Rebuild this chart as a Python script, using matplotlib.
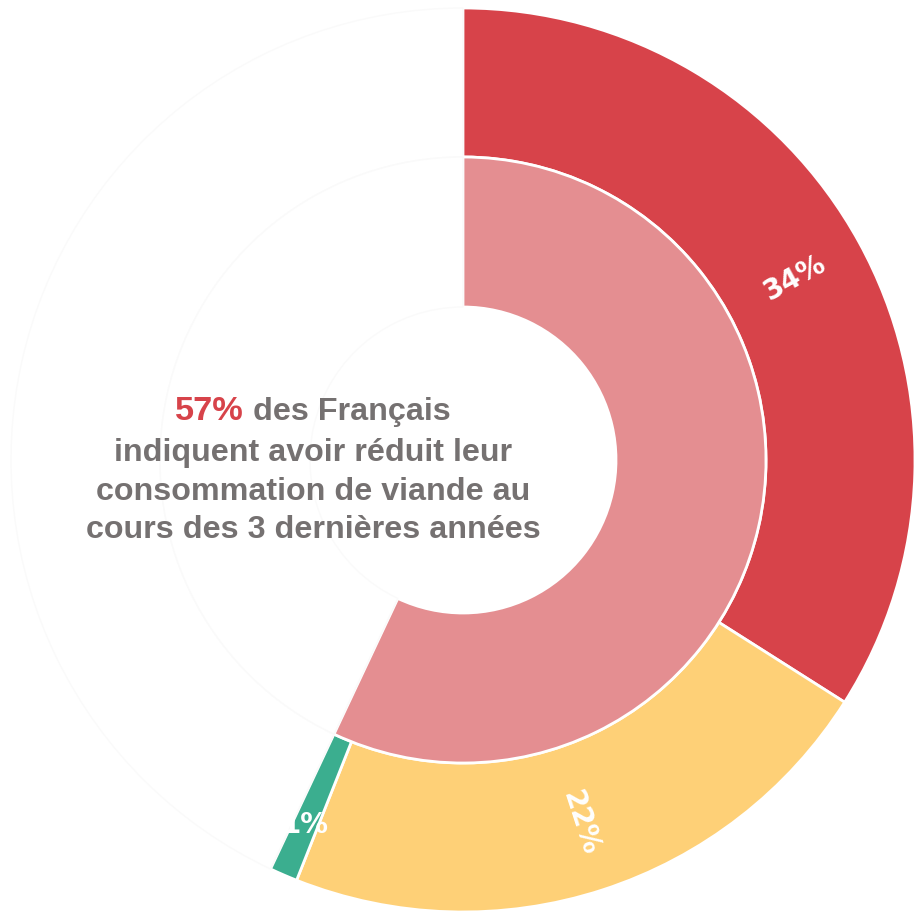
import numpy as np
import matplotlib
matplotlib.use("Agg")
import matplotlib.pyplot as plt

# Data
outer_labels = ["Réduit fortement", "Réduit un peu", "Autre", "Reste"]
outer_values = [34, 22, 1, 43]
inner_values = [57, 43]
label_texts = ["34%", "22%", "1%"]

RED = "#D7434A"
PINK = "#E48E91"
YELLOW = "#FED077"
GREEN = "#3BAE8F"
GREY = "#757171"

W, H = 914, 916
fig = plt.figure(figsize=(W / 100, H / 100), dpi=100)
ax = fig.add_axes([0, 0, 1, 1])

cx, cy = 463, 456
R_out, R_mid, R_in = 452, 303, 153

outer_colors = [RED, YELLOW, GREEN, "white"]
wo, _ = ax.pie(outer_values, colors=outer_colors, startangle=90, counterclock=False,
               radius=R_out, center=(cx, cy), frame=True,
               wedgeprops=dict(width=R_out - R_mid, edgecolor="white", linewidth=2))
wo[-1].set_edgecolor("#fafafa")
wo[-1].set_linewidth(1)
wi, _ = ax.pie(inner_values, colors=[PINK, "white"], startangle=90, counterclock=False,
               radius=R_mid, center=(cx, cy), frame=True,
               wedgeprops=dict(width=R_mid - R_in, edgecolor="white", linewidth=2))
wi[-1].set_edgecolor("#fafafa")
wi[-1].set_linewidth(1)
ax.set_xlim(0, W)
ax.set_ylim(0, H)
ax.axis("off")

# slice labels
total = sum(outer_values)
cum = 0
rots = [None, None, 0]
rads = [378, 382, 398]
for i, txt in enumerate(label_texts):
    mid = (cum + outer_values[i] / 2) / total * 360
    cum += outer_values[i]
    ang = np.deg2rad(90 - mid)
    r = rads[i]
    x, y = cx + r * np.cos(ang), cy + r * np.sin(ang)
    rot = 90 - mid if rots[i] is None else rots[i]
    ax.text(x, y, txt, color="white", fontsize=20, fontweight="bold",
            family="DejaVu Sans", rotation=rot, ha="center", va="center",
            rotation_mode="anchor")

# center text
fam = "Liberation Sans"
fs = 23.2
tx = 313
lines = ["indiquent avoir réduit leur", "consommation de viande au", "cours des 3 dernières années"]
ys = [463, 424, 386]
for l, y in zip(lines, ys):
    ax.text(tx, y, l, color=GREY, fontsize=fs, fontweight="bold", family=fam,
            ha="center", va="center")

t1 = ax.text(0, 504, "57%", color=RED, fontsize=fs + 1.5, fontweight="bold", family=fam,
             ha="left", va="center")
t2 = ax.text(0, 504, " des Français", color=GREY, fontsize=fs, fontweight="bold", family=fam,
             ha="left", va="center")
fig.canvas.draw()
r = fig.canvas.get_renderer()
w1 = t1.get_window_extent(r).width
w2 = t2.get_window_extent(r).width
x0 = tx - (w1 + w2) / 2
t1.set_x(x0)
t2.set_x(x0 + w1)

fig.savefig("out.png", dpi=100, facecolor="white")
